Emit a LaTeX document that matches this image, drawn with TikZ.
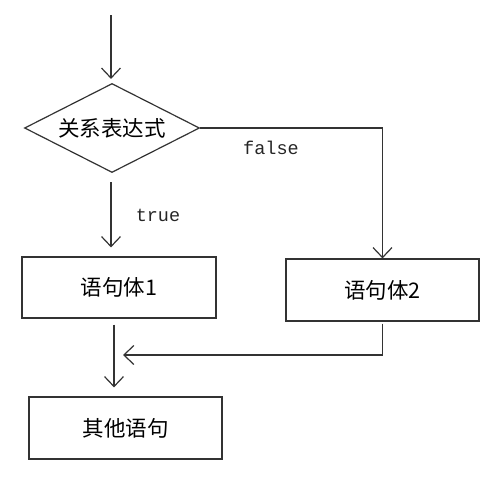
\documentclass[tikz,border=0pt]{standalone}
\usepackage{fontspec}
\newfontfamily\cjk{Noto Sans CJK SC}
\newfontfamily\mono{Liberation Mono}
\usetikzlibrary{shapes.geometric,arrows.meta}
\begin{document}
\begin{tikzpicture}[x=1pt,y=-1pt,line width=1.2pt,draw=black!80,
	box/.style={draw,rectangle,minimum width=194pt,minimum height=61pt,inner sep=0pt,font=\cjk\fontsize{21.5}{25}\selectfont},
	cond/.style={draw,diamond,aspect=2,minimum width=175pt,minimum height=89pt,inner sep=0pt,font=\cjk\fontsize{21.5}{25}\selectfont},
	arr/.style={-{Straight Barb[length=10pt,width=19pt]}},
	lbl/.style={font=\mono\fontsize{18.5}{22}\selectfont,text=black!85}]
	\useasboundingbox (0,0) rectangle (493,477);
	\coordinate (start) at (111,15);
	\node[cond] (test) at (112,128) {关系表达式};
	\node[box] (body1) at (119,287.5) {语句体1};
	\node[box,minimum width=193pt,minimum height=62pt] (body2) at (382.5,290) {语句体2};
	\node[box,minimum width=193pt,minimum height=62pt] (other) at (125.5,428) {其他语句};
	\coordinate (join) at (114,355);
	\draw[arr,shorten >=4pt] (start) -- (start |- test.north);
	\draw[arr] (test.east) -| (body2.north);
	\draw[arr,shorten <=9pt,shorten >=9pt] (start |- test.south) -- (start |- body1.north);
	\draw[arr,shorten <=2pt,shorten >=9pt] (body2.south) |- (join);
	\draw[arr,shorten <=6pt,shorten >=9pt] (join |- body1.south) -- (join |- other.north);
	\node[lbl] (no) at (271,148) {false};
	\node[lbl] (yes) at (158,215) {true};
\end{tikzpicture}
\end{document}
